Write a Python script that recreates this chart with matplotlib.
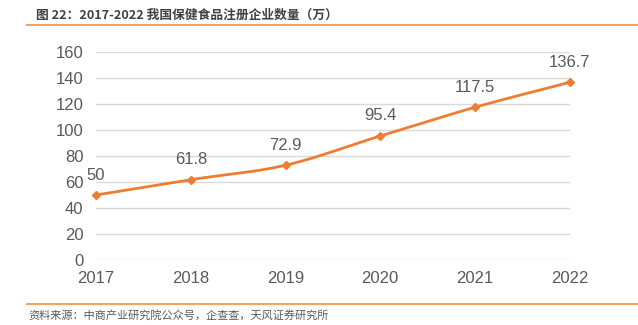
import numpy as np
import matplotlib
matplotlib.use("Agg")
import matplotlib.pyplot as plt
from matplotlib.lines import Line2D

years = [2017, 2018, 2019, 2020, 2021, 2022]
values = [50, 61.8, 72.9, 95.4, 117.5, 136.7]
labels = ["50", "61.8", "72.9", "95.4", "117.5", "136.7"]
yticks = [0, 20, 40, 60, 80, 100, 120, 140, 160]

title = "图 22：2017-2022 我国保健食品注册企业数量（万）"
source = "资料来源：中商产业研究院公众号，企查查，天风证券研究所"

color = "#ED7D31"
cjk = ["Noto Sans CJK SC", "DejaVu Sans"]

fig = plt.figure(figsize=(6.38, 3.25), dpi=100)
ax = fig.add_axes([0.1505, 0.2, 0.7425, 0.64])

# Smoothed curve (Catmull-Rom through the data points)
x = np.array(years, dtype=float)
y = np.array(values, dtype=float)
px = np.concatenate([[2 * x[0] - x[1]], x, [2 * x[-1] - x[-2]]])
py = np.concatenate([[2 * y[0] - y[1]], y, [2 * y[-1] - y[-2]]])
sx, sy = [], []
t = np.linspace(0, 1, 30)
for i in range(1, len(px) - 2):
    p0, p1, p2, p3 = px[i-1], px[i], px[i+1], px[i+2]
    q0, q1, q2, q3 = py[i-1], py[i], py[i+1], py[i+2]
    tt = t
    bx = 0.5 * ((2*p1) + (-p0+p2)*tt + (2*p0-5*p1+4*p2-p3)*tt**2 + (-p0+3*p1-3*p2+p3)*tt**3)
    by = 0.5 * ((2*q1) + (-q0+q2)*tt + (2*q0-5*q1+4*q2-q3)*tt**2 + (-q0+3*q1-3*q2+q3)*tt**3)
    sx.extend(bx); sy.extend(by)
ax.plot(sx, sy, color=color, lw=2, solid_capstyle="round", zorder=3, clip_on=False)
ax.plot(years, values, linestyle="none", marker="D", ms=4, color=color, zorder=4, clip_on=False)

for xi, yi, lab in zip(years, values, labels):
    ax.annotate(lab, (xi, yi), xytext=(0, 9), textcoords="offset points",
                ha="center", va="bottom", fontsize=12, color="#595959",
                family="Liberation Sans")

ax.set_xlim(2017, 2022)
ax.set_ylim(0, 160)
ax.set_yticks(yticks)
ax.set_xticks(years)
ax.set_xticklabels([str(v) for v in years])
for sp in ax.spines.values():
    sp.set_visible(False)
ax.grid(axis="y", color="#D9D9D9", lw=1)
ax.set_axisbelow(True)
ax.tick_params(length=0, labelsize=12, labelcolor="#595959")
ax.tick_params(axis="y", pad=9)
ax.tick_params(axis="x", pad=8)
for lbl in ax.get_xticklabels() + ax.get_yticklabels():
    lbl.set_family("Liberation Sans")

fig.text(36/638, 1 - 15/325, title, fontsize=9.2, fontweight="bold", color="#404040",
         family=cjk, ha="left", va="center")
fig.add_artist(Line2D([27/638, 1], [1 - 25/325, 1 - 25/325], color="#F4A460", lw=1.5))
fig.add_artist(Line2D([27/638, 1], [1 - 304/325, 1 - 304/325], color="#F4A460", lw=1.5))
fig.text(28/638, 1 - 315/325, source, fontsize=8, color="#595959",
         family=cjk, ha="left", va="center")

fig.savefig("out.png", dpi=100)
